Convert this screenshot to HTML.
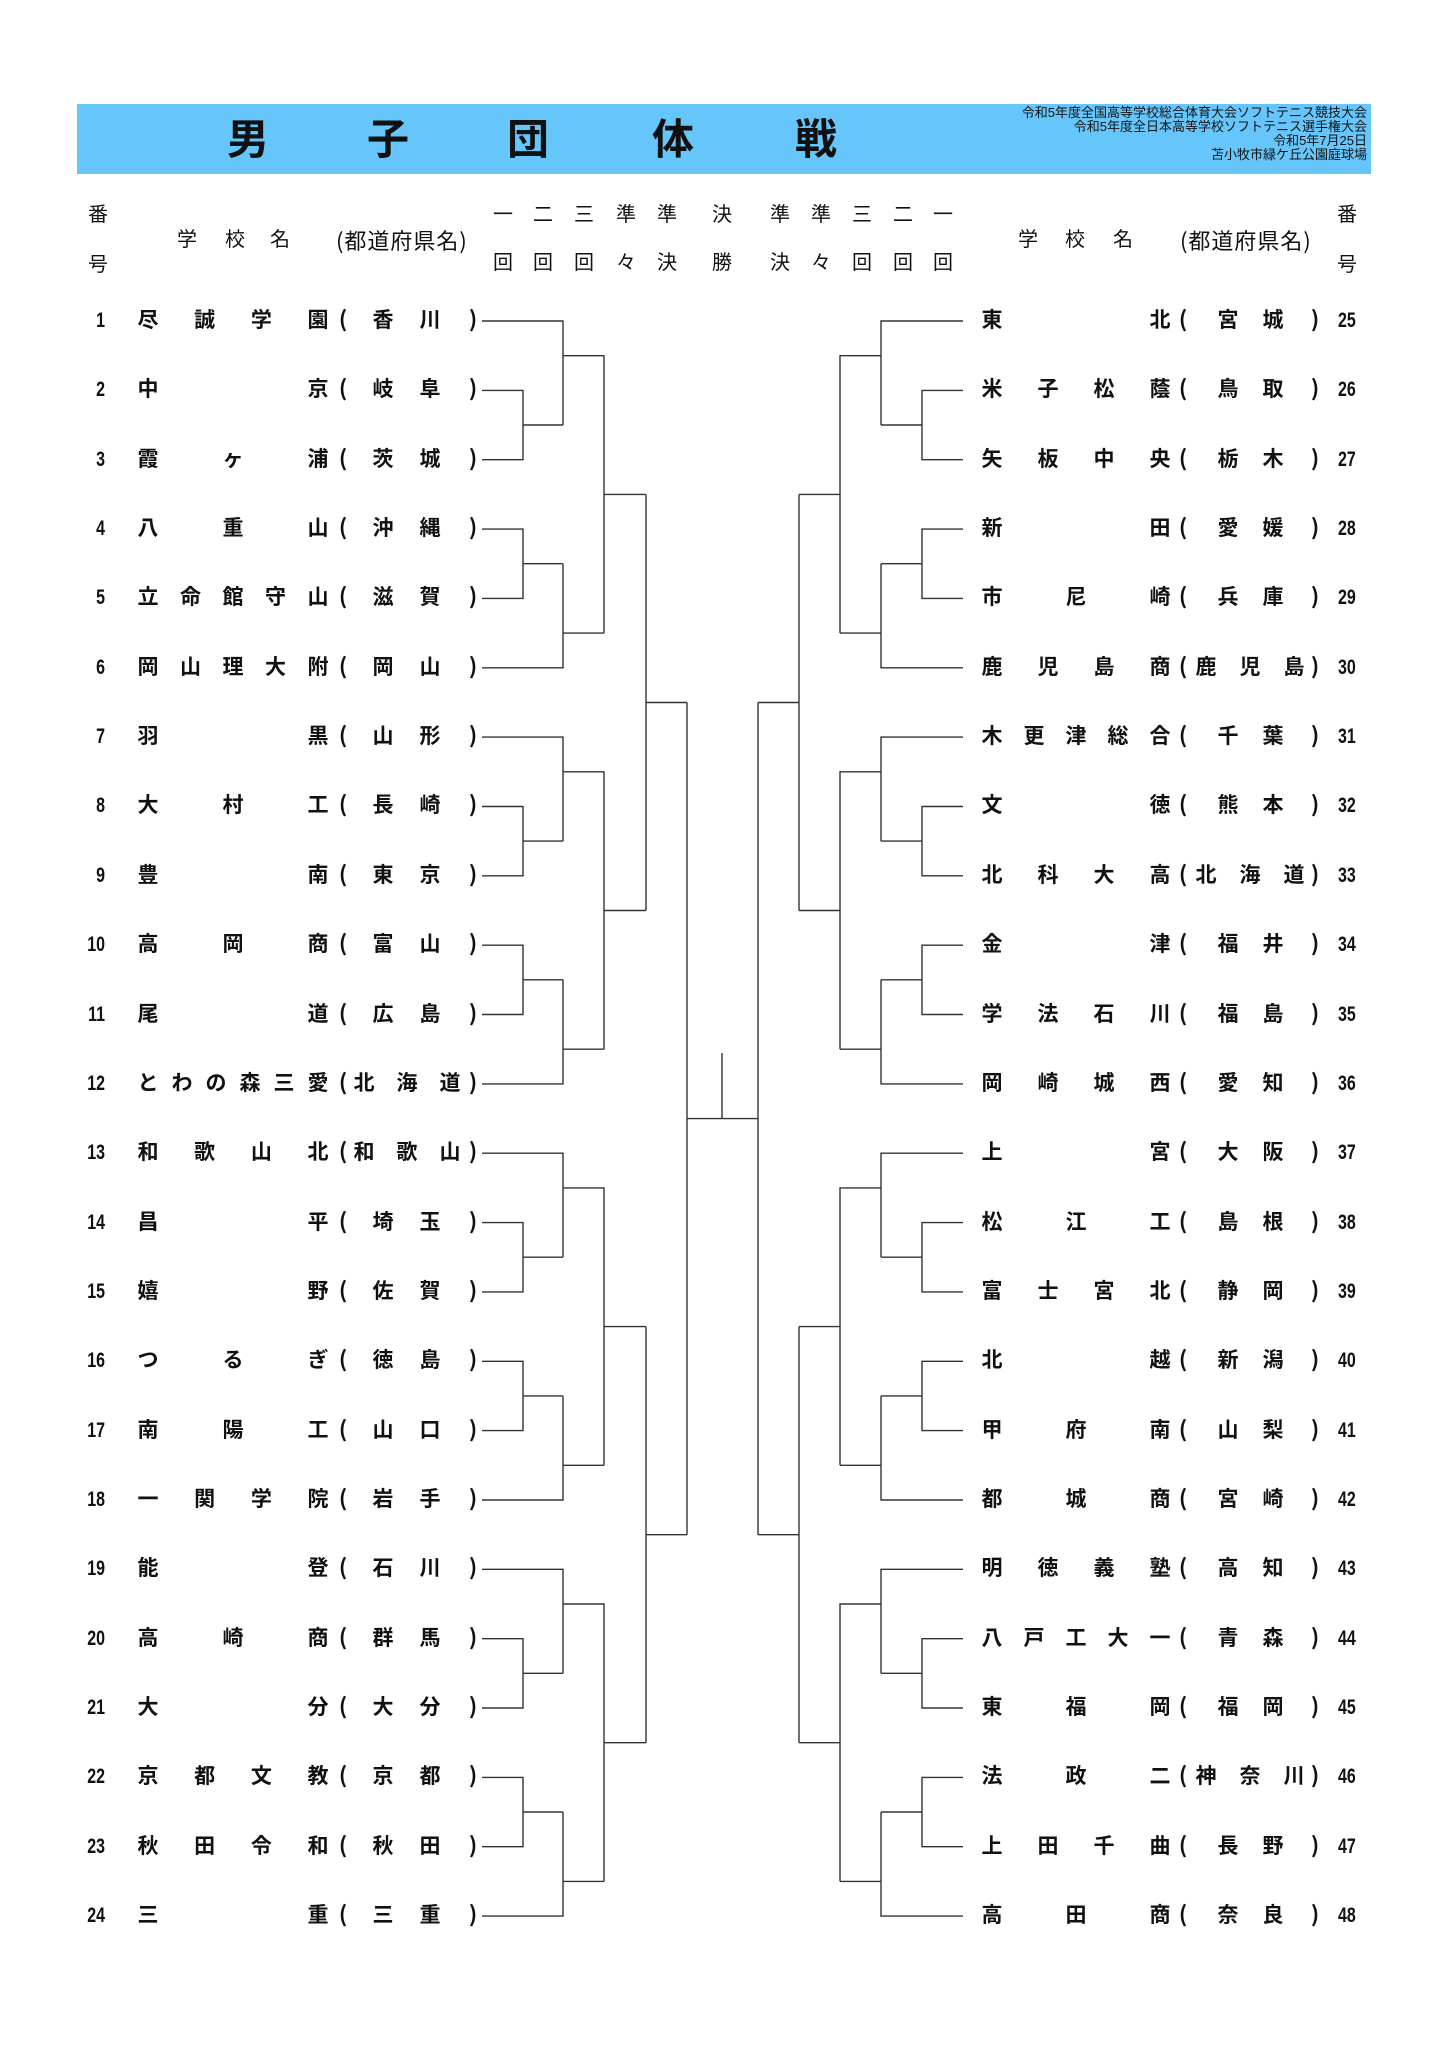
<!DOCTYPE html>
<html><head><meta charset="utf-8">
<style>
html,body{margin:0;padding:0;background:#fff}
body{width:1448px;height:2048px;position:relative;overflow:hidden;font-family:"Liberation Sans","Noto Sans CJK JP",sans-serif;color:#111}
.banner{position:absolute;left:77px;top:104px;width:1294px;height:70px;background:#66c6fb}
.t{position:absolute;top:116px;font:bold 42px "Liberation Sans","Noto Sans CJK JP",sans-serif;line-height:48px;width:50px;text-align:center}
.info{position:absolute;right:81px;top:106px;text-align:right;font:13px "Liberation Sans","Noto Sans CJK JP",sans-serif;line-height:14px;color:#111}
.h{position:absolute;font:20px "Liberation Sans","Noto Sans CJK JP",sans-serif;line-height:26px;width:26px;text-align:center}
.hs{position:absolute;font:22px "Noto Sans CJK JP",sans-serif;line-height:26px;white-space:nowrap;letter-spacing:1px}
.r{position:absolute;left:0;width:1448px;height:30px;line-height:30px;font:bold 21px "Liberation Sans","Noto Sans CJK JP",sans-serif}
.r span{position:absolute;top:0;height:30px;display:flex;justify-content:space-between;align-items:center}
.r i{font-style:normal;width:22px;text-align:center;display:block;line-height:30px}
.r .n{font:bold 21px "Liberation Sans",sans-serif;line-height:30px;transform:scaleX(.76)}
.L .n{left:55px;width:50px;justify-content:flex-end;transform-origin:right center}
.L .nm{left:137px;width:192px}
.L .o{left:333px;width:20px}
.L .p2{left:372px;width:69px}
.L .p3{left:353px;width:108px}
.L .c{left:463px;width:20px}
.R .nm{left:981px;width:190px}
.R .o{left:1173px;width:20px}
.R .p2{left:1217px;width:67px}
.R .p3{left:1195px;width:110px}
.R .c{left:1305px;width:20px}
.R .n{left:1338px;width:50px;transform-origin:left center}
.r .o,.r .c{justify-content:center;font:bold 22px "Noto Sans CJK JP",sans-serif;line-height:30px;top:-3px}
</style></head><body>
<div class="banner"></div>
<div class="t" style="left:223px">男</div>
<div class="t" style="left:363px">子</div>
<div class="t" style="left:503px">団</div>
<div class="t" style="left:648px">体</div>
<div class="t" style="left:791px">戦</div>
<div class="info">令和5年度全国高等学校総合体育大会ソフトテニス競技大会<br>令和5年度全日本高等学校ソフトテニス選手権大会<br>令和5年7月25日<br>苫小牧市緑ケ丘公園庭球場</div>

<div class="h" style="left:85px;top:202px">番</div>
<div class="h" style="left:85px;top:252px">号</div>
<div class="h" style="left:174px;top:227px">学</div>
<div class="h" style="left:222px;top:227px">校</div>
<div class="h" style="left:267px;top:227px">名</div>
<div class="hs" style="left:336px;top:227px">(都道府県名)</div>
<div class="h" style="left:1015px;top:227px">学</div>
<div class="h" style="left:1062px;top:227px">校</div>
<div class="h" style="left:1110px;top:227px">名</div>
<div class="hs" style="left:1180px;top:227px">(都道府県名)</div>
<div class="h" style="left:1334px;top:202px">番</div>
<div class="h" style="left:1334px;top:252px">号</div>

<div class="h" style="left:490px;top:202px">一</div><div class="h" style="left:490px;top:250px">回</div>
<div class="h" style="left:530px;top:202px">二</div><div class="h" style="left:530px;top:250px">回</div>
<div class="h" style="left:571px;top:202px">三</div><div class="h" style="left:571px;top:250px">回</div>
<div class="h" style="left:613px;top:202px">準</div><div class="h" style="left:613px;top:250px">々</div>
<div class="h" style="left:654px;top:202px">準</div><div class="h" style="left:654px;top:250px">決</div>
<div class="h" style="left:709px;top:202px">決</div><div class="h" style="left:709px;top:250px">勝</div>
<div class="h" style="left:767px;top:202px">準</div><div class="h" style="left:767px;top:250px">決</div>
<div class="h" style="left:808px;top:202px">準</div><div class="h" style="left:808px;top:250px">々</div>
<div class="h" style="left:849px;top:202px">三</div><div class="h" style="left:849px;top:250px">回</div>
<div class="h" style="left:890px;top:202px">二</div><div class="h" style="left:890px;top:250px">回</div>
<div class="h" style="left:930px;top:202px">一</div><div class="h" style="left:930px;top:250px">回</div>

<svg width="1448" height="2048" style="position:absolute;left:0;top:0" fill="none" stroke="#333" stroke-width="1.4">
<path d="M482 321H563V425M482 390.4H523V459.7H482M523 425H563M563 355.7H604V633.1M482 529.1H523V598.4H482M523 563.7H563M482 667.8H563V563.7M563 633.1H604M604 494.4H646
M482 737.1H563V841.1M482 806.5H523V875.8H482M523 841.1H563M563 771.8H604V1049.2M482 945.2H523V1014.5H482M523 979.8H563M482 1083.9H563V979.8M563 1049.2H604M604 910.5H646
M482 1153.2H563V1257.2M482 1222.6H523V1291.9H482M523 1257.2H563M563 1187.9H604V1465.3M482 1361.3H523V1430.6H482M523 1395.9H563M482 1500H563V1395.9M563 1465.3H604M604 1326.6H646
M482 1569.3H563V1673.3M482 1638.7H523V1708H482M523 1673.3H563M563 1604H604V1881.4M482 1777.4H523V1846.7H482M523 1812H563M482 1916.1H563V1812M563 1881.4H604M604 1742.7H646
M646 494.4V910.5M646 702.5H687M646 1326.6V1742.7M646 1534.7H687M687 702.5V1534.7M687 1118.6H758M722 1053V1118.6M758 702.5V1534.7
M963 321H881V425M963 390.4H922V459.7H963M922 425H881M881 355.7H840V633.1M963 529.1H922V598.4H963M922 563.7H881M963 667.8H881V563.7M881 633.1H840M840 494.4H799
M963 737.1H881V841.1M963 806.5H922V875.8H963M922 841.1H881M881 771.8H840V1049.2M963 945.2H922V1014.5H963M922 979.8H881M963 1083.9H881V979.8M881 1049.2H840M840 910.5H799
M963 1153.2H881V1257.2M963 1222.6H922V1291.9H963M922 1257.2H881M881 1187.9H840V1465.3M963 1361.3H922V1430.6H963M922 1395.9H881M963 1500H881V1395.9M881 1465.3H840M840 1326.6H799
M963 1569.3H881V1673.3M963 1638.7H922V1708H963M922 1673.3H881M881 1604H840V1881.4M963 1777.4H922V1846.7H963M922 1812H881M963 1916.1H881V1812M881 1881.4H840M840 1742.7H799
M799 494.4V910.5M799 702.5H758M799 1326.6V1742.7M799 1534.7H758"/>
</svg>

<div class="r L" style="top:306px"><span class="n">1</span><span class="nm"><i>尽</i><i>誠</i><i>学</i><i>園</i></span><span class="o">(</span><span class="p2"><i>香</i><i>川</i></span><span class="c">)</span></div>
<div class="r L" style="top:375px"><span class="n">2</span><span class="nm"><i>中</i><i>京</i></span><span class="o">(</span><span class="p2"><i>岐</i><i>阜</i></span><span class="c">)</span></div>
<div class="r L" style="top:445px"><span class="n">3</span><span class="nm"><i>霞</i><i>ヶ</i><i>浦</i></span><span class="o">(</span><span class="p2"><i>茨</i><i>城</i></span><span class="c">)</span></div>
<div class="r L" style="top:514px"><span class="n">4</span><span class="nm"><i>八</i><i>重</i><i>山</i></span><span class="o">(</span><span class="p2"><i>沖</i><i>縄</i></span><span class="c">)</span></div>
<div class="r L" style="top:583px"><span class="n">5</span><span class="nm"><i>立</i><i>命</i><i>館</i><i>守</i><i>山</i></span><span class="o">(</span><span class="p2"><i>滋</i><i>賀</i></span><span class="c">)</span></div>
<div class="r L" style="top:653px"><span class="n">6</span><span class="nm"><i>岡</i><i>山</i><i>理</i><i>大</i><i>附</i></span><span class="o">(</span><span class="p2"><i>岡</i><i>山</i></span><span class="c">)</span></div>
<div class="r L" style="top:722px"><span class="n">7</span><span class="nm"><i>羽</i><i>黒</i></span><span class="o">(</span><span class="p2"><i>山</i><i>形</i></span><span class="c">)</span></div>
<div class="r L" style="top:791px"><span class="n">8</span><span class="nm"><i>大</i><i>村</i><i>工</i></span><span class="o">(</span><span class="p2"><i>長</i><i>崎</i></span><span class="c">)</span></div>
<div class="r L" style="top:861px"><span class="n">9</span><span class="nm"><i>豊</i><i>南</i></span><span class="o">(</span><span class="p2"><i>東</i><i>京</i></span><span class="c">)</span></div>
<div class="r L" style="top:930px"><span class="n">10</span><span class="nm"><i>高</i><i>岡</i><i>商</i></span><span class="o">(</span><span class="p2"><i>富</i><i>山</i></span><span class="c">)</span></div>
<div class="r L" style="top:1000px"><span class="n">11</span><span class="nm"><i>尾</i><i>道</i></span><span class="o">(</span><span class="p2"><i>広</i><i>島</i></span><span class="c">)</span></div>
<div class="r L" style="top:1069px"><span class="n">12</span><span class="nm"><i>と</i><i>わ</i><i>の</i><i>森</i><i>三</i><i>愛</i></span><span class="o">(</span><span class="p3"><i>北</i><i>海</i><i>道</i></span><span class="c">)</span></div>
<div class="r L" style="top:1138px"><span class="n">13</span><span class="nm"><i>和</i><i>歌</i><i>山</i><i>北</i></span><span class="o">(</span><span class="p3"><i>和</i><i>歌</i><i>山</i></span><span class="c">)</span></div>
<div class="r L" style="top:1208px"><span class="n">14</span><span class="nm"><i>昌</i><i>平</i></span><span class="o">(</span><span class="p2"><i>埼</i><i>玉</i></span><span class="c">)</span></div>
<div class="r L" style="top:1277px"><span class="n">15</span><span class="nm"><i>嬉</i><i>野</i></span><span class="o">(</span><span class="p2"><i>佐</i><i>賀</i></span><span class="c">)</span></div>
<div class="r L" style="top:1346px"><span class="n">16</span><span class="nm"><i>つ</i><i>る</i><i>ぎ</i></span><span class="o">(</span><span class="p2"><i>徳</i><i>島</i></span><span class="c">)</span></div>
<div class="r L" style="top:1416px"><span class="n">17</span><span class="nm"><i>南</i><i>陽</i><i>工</i></span><span class="o">(</span><span class="p2"><i>山</i><i>口</i></span><span class="c">)</span></div>
<div class="r L" style="top:1485px"><span class="n">18</span><span class="nm"><i>一</i><i>関</i><i>学</i><i>院</i></span><span class="o">(</span><span class="p2"><i>岩</i><i>手</i></span><span class="c">)</span></div>
<div class="r L" style="top:1554px"><span class="n">19</span><span class="nm"><i>能</i><i>登</i></span><span class="o">(</span><span class="p2"><i>石</i><i>川</i></span><span class="c">)</span></div>
<div class="r L" style="top:1624px"><span class="n">20</span><span class="nm"><i>高</i><i>崎</i><i>商</i></span><span class="o">(</span><span class="p2"><i>群</i><i>馬</i></span><span class="c">)</span></div>
<div class="r L" style="top:1693px"><span class="n">21</span><span class="nm"><i>大</i><i>分</i></span><span class="o">(</span><span class="p2"><i>大</i><i>分</i></span><span class="c">)</span></div>
<div class="r L" style="top:1762px"><span class="n">22</span><span class="nm"><i>京</i><i>都</i><i>文</i><i>教</i></span><span class="o">(</span><span class="p2"><i>京</i><i>都</i></span><span class="c">)</span></div>
<div class="r L" style="top:1832px"><span class="n">23</span><span class="nm"><i>秋</i><i>田</i><i>令</i><i>和</i></span><span class="o">(</span><span class="p2"><i>秋</i><i>田</i></span><span class="c">)</span></div>
<div class="r L" style="top:1901px"><span class="n">24</span><span class="nm"><i>三</i><i>重</i></span><span class="o">(</span><span class="p2"><i>三</i><i>重</i></span><span class="c">)</span></div>

<div class="r R" style="top:306px"><span class="nm"><i>東</i><i>北</i></span><span class="o">(</span><span class="p2"><i>宮</i><i>城</i></span><span class="c">)</span><span class="n">25</span></div>
<div class="r R" style="top:375px"><span class="nm"><i>米</i><i>子</i><i>松</i><i>蔭</i></span><span class="o">(</span><span class="p2"><i>鳥</i><i>取</i></span><span class="c">)</span><span class="n">26</span></div>
<div class="r R" style="top:445px"><span class="nm"><i>矢</i><i>板</i><i>中</i><i>央</i></span><span class="o">(</span><span class="p2"><i>栃</i><i>木</i></span><span class="c">)</span><span class="n">27</span></div>
<div class="r R" style="top:514px"><span class="nm"><i>新</i><i>田</i></span><span class="o">(</span><span class="p2"><i>愛</i><i>媛</i></span><span class="c">)</span><span class="n">28</span></div>
<div class="r R" style="top:583px"><span class="nm"><i>市</i><i>尼</i><i>崎</i></span><span class="o">(</span><span class="p2"><i>兵</i><i>庫</i></span><span class="c">)</span><span class="n">29</span></div>
<div class="r R" style="top:653px"><span class="nm"><i>鹿</i><i>児</i><i>島</i><i>商</i></span><span class="o">(</span><span class="p3"><i>鹿</i><i>児</i><i>島</i></span><span class="c">)</span><span class="n">30</span></div>
<div class="r R" style="top:722px"><span class="nm"><i>木</i><i>更</i><i>津</i><i>総</i><i>合</i></span><span class="o">(</span><span class="p2"><i>千</i><i>葉</i></span><span class="c">)</span><span class="n">31</span></div>
<div class="r R" style="top:791px"><span class="nm"><i>文</i><i>徳</i></span><span class="o">(</span><span class="p2"><i>熊</i><i>本</i></span><span class="c">)</span><span class="n">32</span></div>
<div class="r R" style="top:861px"><span class="nm"><i>北</i><i>科</i><i>大</i><i>高</i></span><span class="o">(</span><span class="p3"><i>北</i><i>海</i><i>道</i></span><span class="c">)</span><span class="n">33</span></div>
<div class="r R" style="top:930px"><span class="nm"><i>金</i><i>津</i></span><span class="o">(</span><span class="p2"><i>福</i><i>井</i></span><span class="c">)</span><span class="n">34</span></div>
<div class="r R" style="top:1000px"><span class="nm"><i>学</i><i>法</i><i>石</i><i>川</i></span><span class="o">(</span><span class="p2"><i>福</i><i>島</i></span><span class="c">)</span><span class="n">35</span></div>
<div class="r R" style="top:1069px"><span class="nm"><i>岡</i><i>崎</i><i>城</i><i>西</i></span><span class="o">(</span><span class="p2"><i>愛</i><i>知</i></span><span class="c">)</span><span class="n">36</span></div>
<div class="r R" style="top:1138px"><span class="nm"><i>上</i><i>宮</i></span><span class="o">(</span><span class="p2"><i>大</i><i>阪</i></span><span class="c">)</span><span class="n">37</span></div>
<div class="r R" style="top:1208px"><span class="nm"><i>松</i><i>江</i><i>工</i></span><span class="o">(</span><span class="p2"><i>島</i><i>根</i></span><span class="c">)</span><span class="n">38</span></div>
<div class="r R" style="top:1277px"><span class="nm"><i>富</i><i>士</i><i>宮</i><i>北</i></span><span class="o">(</span><span class="p2"><i>静</i><i>岡</i></span><span class="c">)</span><span class="n">39</span></div>
<div class="r R" style="top:1346px"><span class="nm"><i>北</i><i>越</i></span><span class="o">(</span><span class="p2"><i>新</i><i>潟</i></span><span class="c">)</span><span class="n">40</span></div>
<div class="r R" style="top:1416px"><span class="nm"><i>甲</i><i>府</i><i>南</i></span><span class="o">(</span><span class="p2"><i>山</i><i>梨</i></span><span class="c">)</span><span class="n">41</span></div>
<div class="r R" style="top:1485px"><span class="nm"><i>都</i><i>城</i><i>商</i></span><span class="o">(</span><span class="p2"><i>宮</i><i>崎</i></span><span class="c">)</span><span class="n">42</span></div>
<div class="r R" style="top:1554px"><span class="nm"><i>明</i><i>徳</i><i>義</i><i>塾</i></span><span class="o">(</span><span class="p2"><i>高</i><i>知</i></span><span class="c">)</span><span class="n">43</span></div>
<div class="r R" style="top:1624px"><span class="nm"><i>八</i><i>戸</i><i>工</i><i>大</i><i>一</i></span><span class="o">(</span><span class="p2"><i>青</i><i>森</i></span><span class="c">)</span><span class="n">44</span></div>
<div class="r R" style="top:1693px"><span class="nm"><i>東</i><i>福</i><i>岡</i></span><span class="o">(</span><span class="p2"><i>福</i><i>岡</i></span><span class="c">)</span><span class="n">45</span></div>
<div class="r R" style="top:1762px"><span class="nm"><i>法</i><i>政</i><i>二</i></span><span class="o">(</span><span class="p3"><i>神</i><i>奈</i><i>川</i></span><span class="c">)</span><span class="n">46</span></div>
<div class="r R" style="top:1832px"><span class="nm"><i>上</i><i>田</i><i>千</i><i>曲</i></span><span class="o">(</span><span class="p2"><i>長</i><i>野</i></span><span class="c">)</span><span class="n">47</span></div>
<div class="r R" style="top:1901px"><span class="nm"><i>高</i><i>田</i><i>商</i></span><span class="o">(</span><span class="p2"><i>奈</i><i>良</i></span><span class="c">)</span><span class="n">48</span></div>
</body></html>
